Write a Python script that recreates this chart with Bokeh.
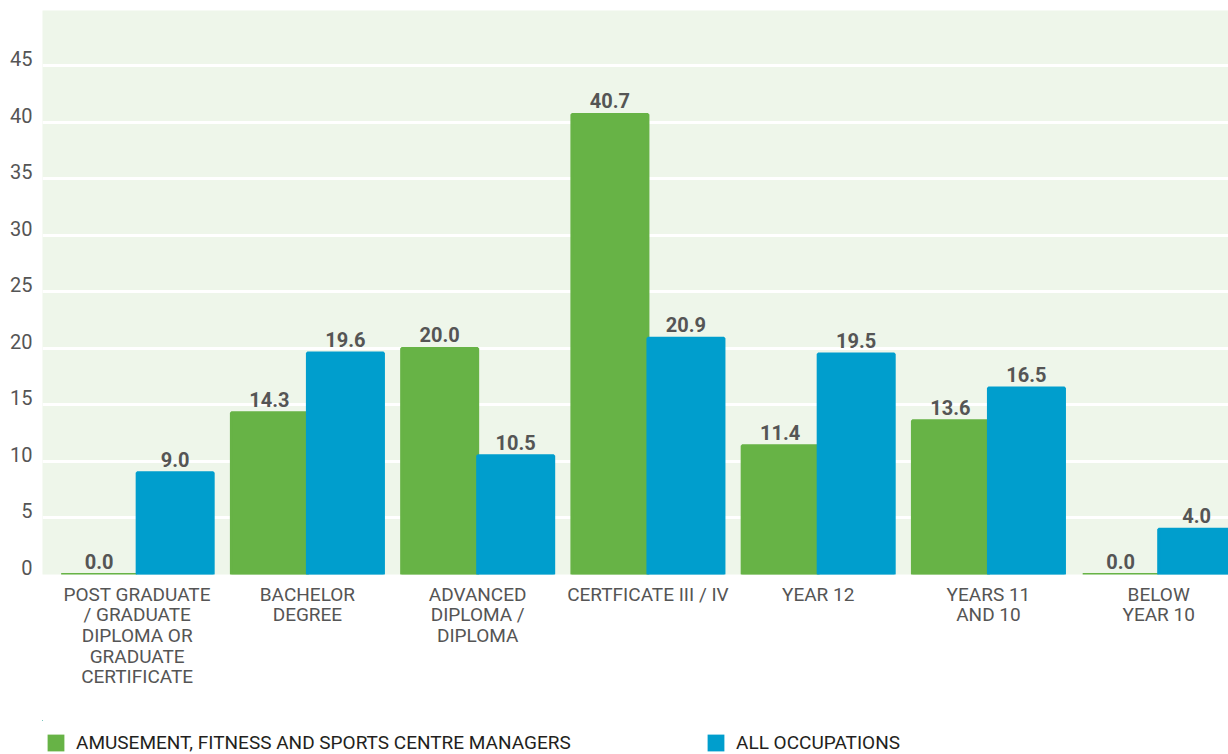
from bokeh.plotting import figure
from bokeh.layouts import column
from bokeh.models import (FixedTicker, ColumnDataSource, LabelSet, Legend, LegendItem, Range1d)
from bokeh.core.properties import value
from bokeh.embed import file_html
from bokeh.resources import INLINE

categories = [
    "POST GRADUATE\n/ GRADUATE\nDIPLOMA OR\nGRADUATE\nCERTIFICATE",
    "BACHELOR\nDEGREE",
    "ADVANCED\nDIPLOMA /\nDIPLOMA",
    "CERTFICATE III / IV",
    "YEAR 12",
    "YEARS 11\nAND 10",
    "BELOW\nYEAR 10",
]
managers = [0.0, 14.3, 20.0, 40.7, 11.4, 13.6, 0.0]
all_occupations = [9.0, 19.6, 10.5, 20.9, 19.5, 16.5, 4.0]
series_names = ["AMUSEMENT, FITNESS AND SPORTS CENTRE MANAGERS", "ALL OCCUPATIONS"]
y_ticks = [0, 5, 10, 15, 20, 25, 30, 35, 40, 45]

GREEN = "#67b346"
BLUE = "#009ecd"
FONT = "Roboto"

idx = list(range(len(categories)))
bw = 0.4465
src_g = ColumnDataSource(dict(x=[i - bw / 2 for i in idx], top=managers,
                              lab=[f"{v:.1f}" for v in managers]))
src_b = ColumnDataSource(dict(x=[i + bw / 2 for i in idx], top=all_occupations,
                              lab=[f"{v:.1f}" for v in all_occupations]))

p = figure(width=1228, height=720, output_backend="svg", toolbar_location=None,
           x_range=Range1d(-0.556, 6.41), y_range=Range1d(0, 49.9),
           min_border_left=42, min_border_right=0, min_border_top=10, min_border_bottom=146)
p.outline_line_color = None
p.background_fill_color = "#eef6ea"
p.border_fill_color = "white"

rg = p.vbar(x="x", top="top", width=bw, source=src_g, fill_color=GREEN,
            line_color=GREEN, line_width=3)
rb = p.vbar(x="x", top="top", width=bw, source=src_b, fill_color=BLUE,
            line_color=BLUE, line_width=3)

for src in (src_g, src_b):
    p.add_layout(LabelSet(x="x", y="top", text="lab", source=src, y_offset=6,
                          text_align="center", text_baseline="alphabetic",
                          text_font=value(FONT), text_font_style="bold",
                          text_font_size="20px", text_color="#555555"))

p.xgrid.grid_line_color = None
p.ygrid.grid_line_color = "white"
p.ygrid.grid_line_width = 3
p.ygrid.ticker = FixedTicker(ticks=y_ticks)

p.yaxis.ticker = FixedTicker(ticks=y_ticks)
# trailing empty line lifts each label slightly above its gridline, as in the source
p.yaxis.major_label_overrides = {t: f"{t}\n" for t in y_ticks}
p.yaxis.major_label_text_line_height = 0.55
p.yaxis.axis_line_color = None
p.yaxis.major_tick_line_color = None
p.yaxis.major_tick_out = 0
p.yaxis.minor_tick_line_color = None
p.yaxis.major_label_text_font = FONT
p.yaxis.major_label_text_font_size = "20px"
p.yaxis.major_label_text_color = "#555555"
p.yaxis.major_label_standoff = 10

p.xaxis.ticker = FixedTicker(ticks=idx)
p.xaxis.major_label_overrides = {i: c for i, c in zip(idx, categories)}
p.xaxis.axis_line_color = None
p.xaxis.major_tick_line_color = None
p.xaxis.major_tick_out = 0
p.xaxis.minor_tick_line_color = None
p.xaxis.major_label_text_font = FONT
p.xaxis.major_label_text_font_size = "19px"
p.xaxis.major_label_text_line_height = 0.9
p.xaxis.major_label_text_color = "#555555"
p.xaxis.major_label_standoff = 8

# legend strip below the chart (its data window is far from the data, only the legend shows)
p2 = figure(width=1228, height=34, output_backend="svg", toolbar_location=None,
            x_axis_type=None, y_axis_type=None, min_border=0,
            x_range=Range1d(100, 101), y_range=Range1d(-200, -100))
p2.outline_line_color = None
p2.xgrid.visible = False
p2.ygrid.visible = False
pg = p2.vbar(x="x", top="top", width=bw, source=src_g, fill_color=GREEN,
             line_color=GREEN, line_width=0.01)
pb = p2.vbar(x="x", top="top", width=bw, source=src_b, fill_color=BLUE,
             line_color=BLUE, line_width=0.01)
for r, name, xloc in ((pg, series_names[0], 3), (pb, series_names[1], 663)):
    lg = Legend(items=[LegendItem(label=name, renderers=[r], index=0)], location=(xloc, 0),
                orientation="horizontal", border_line_color=None,
                background_fill_alpha=0, padding=0, margin=0, spacing=0,
                glyph_width=21, glyph_height=21, label_height=21,
                label_standoff=10, label_text_font=FONT, label_text_font_size="19px",
                label_text_color="#231f20")
    p2.add_layout(lg, "center")

layout = column(p, p2, spacing=0)
open("out.html", "w").write(file_html(layout, INLINE))
